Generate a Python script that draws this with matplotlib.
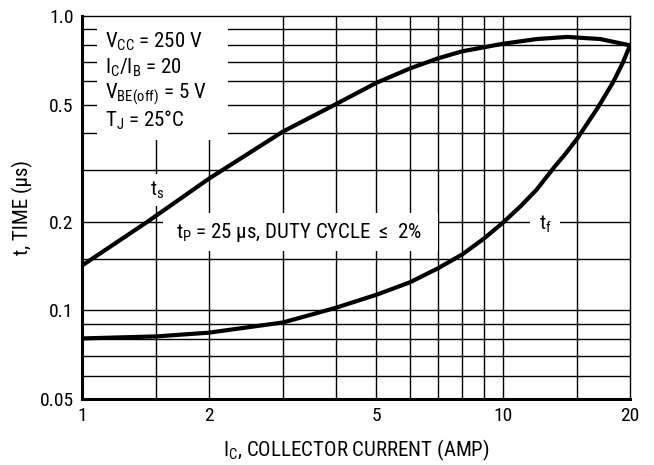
import matplotlib
matplotlib.use("Agg")
import matplotlib.pyplot as plt
from matplotlib.patches import Rectangle

plt.rcParams['font.family'] = ['Roboto Condensed', 'DejaVu Sans']
plt.rcParams['mathtext.default'] = 'regular'

# storage time t_s (us) vs collector current (A)
ic_s = [1, 1.43, 2, 3, 3.88, 5, 6, 7, 8, 10, 12, 14.2, 17, 20]
ts = [0.142, 0.2, 0.28, 0.405, 0.49, 0.593, 0.663, 0.718, 0.759, 0.805, 0.835, 0.849, 0.835, 0.795]

# fall time t_f (us)
ic_f = [1, 1.5, 2, 3, 4, 5, 6, 7, 8, 9, 10, 11, 12, 13.3, 14, 15, 16.8, 18.2, 19.2, 20]
tf = [0.0803, 0.0816, 0.084, 0.091, 0.102, 0.113, 0.1245, 0.139, 0.155, 0.1754, 0.199,
      0.226, 0.257, 0.31, 0.338, 0.384, 0.49, 0.593, 0.69, 0.795]

x_ticks = [1, 2, 5, 10, 20]
x_labels = ['1', '2', '5', '10', '20']
y_ticks = [0.05, 0.1, 0.2, 0.5, 1.0]
y_labels = ['0.05', '0.1', '0.2', '0.5', '1.0']
x_grid = [1.5, 2, 3, 4, 5, 6, 7, 8, 9, 10, 15]
y_grid = [0.06, 0.07, 0.08, 0.09, 0.1, 0.15, 0.2, 0.3, 0.4, 0.5, 0.6, 0.7, 0.8, 0.9]

fig = plt.figure(figsize=(6.54, 4.65), dpi=100)
ax = fig.add_axes([0.1254, 0.1419, 0.8379, 0.8237])
ax.set_xscale('log')
ax.set_yscale('log')
ax.set_xlim(1, 20)
ax.set_ylim(0.05, 1.0)

for g in x_grid:
    ax.axvline(g, color='black', lw=1.0, zorder=0.5)
for g in y_grid:
    ax.axhline(g, color='black', lw=1.0, zorder=0.5)

ax.plot(ic_s, ts, color='black', lw=3, zorder=3, solid_capstyle='round', solid_joinstyle='round')
ax.plot(ic_f, tf, color='black', lw=3, zorder=3, solid_capstyle='round', solid_joinstyle='round')

ax.set_xticks(x_ticks)
ax.set_xticklabels(x_labels)
ax.set_yticks(y_ticks)
ax.set_yticklabels(y_labels)
ax.minorticks_off()
ax.tick_params(length=0, labelsize=14, pad=6)

for s in ['left', 'bottom']:
    ax.spines[s].set_linewidth(2.2)
for s in ['top', 'right']:
    ax.spines[s].set_linewidth(1.0)

# white boxes behind the notes
ax.add_patch(Rectangle((0.027, 0.676), 0.239, 0.33, transform=ax.transAxes,
                       facecolor='white', edgecolor='none', zorder=1))
ax.add_patch(Rectangle((0.148, 0.386), 0.502, 0.10, transform=ax.transAxes,
                       facecolor='white', edgecolor='none', zorder=1))

notes = [r'V$_{CC}$ = 250 V', r'I$_C$/I$_B$ = 20', r'V$_{BE(off)}$ = 5 V', r'T$_J$ = 25°C']
for i, t in enumerate(notes):
    ax.text(0.042, 0.932 - i * 0.068, t, transform=ax.transAxes, fontsize=15,
            va='center', ha='left', zorder=2)

ax.text(0.396, 0.436, r't$_P$ = 25 μs, DUTY CYCLE $\leq$ 2%', transform=ax.transAxes,
        fontsize=15, va='center', ha='center', zorder=2)
ax.text(0.137, 0.546, r't$_s$', transform=ax.transAxes, fontsize=15, va='center',
        ha='center', zorder=2, bbox=dict(facecolor='white', edgecolor='none', pad=4))
ax.text(0.845, 0.457, r't$_f$', transform=ax.transAxes, fontsize=15, va='center',
        ha='center', zorder=2, bbox=dict(facecolor='white', edgecolor='none', pad=6))

ax.set_xlabel(r'I$_C$, COLLECTOR CURRENT (AMP)', fontsize=15, labelpad=9)
ax.set_ylabel(r't, TIME (μs)', fontsize=15, labelpad=5)

fig.savefig('out.png', dpi=100)
